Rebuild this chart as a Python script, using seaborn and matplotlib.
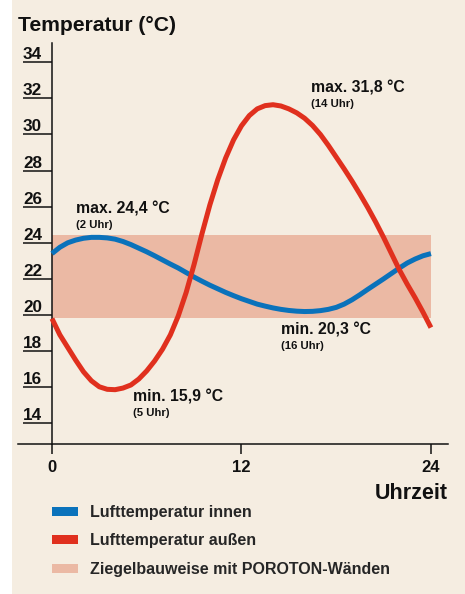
import numpy as np
import pandas as pd
import matplotlib
matplotlib.use("Agg")
import matplotlib.pyplot as plt
from matplotlib.patches import Patch, Rectangle
import seaborn as sns

# Werte (halbstündlich)
stunden = [0, 0.5, 1, 1.5, 2, 2.5, 3, 3.5, 4, 4.5, 5, 5.5, 6, 6.5, 7, 7.5,
           8, 8.5, 9, 9.5, 10, 10.5, 11, 11.5, 12, 12.5, 13, 13.5, 14, 14.5,
           15, 15.5, 16, 16.5, 17, 17.5, 18, 18.5, 19, 19.5, 20, 20.5, 21,
           21.5, 22, 22.5, 23, 23.5, 24]
innen = [23.4, 23.75, 24.0, 24.15, 24.25, 24.3, 24.3, 24.27, 24.2, 24.07,
         23.9, 23.7, 23.5, 23.28, 23.05, 22.82, 22.6, 22.35, 22.1, 21.87,
         21.65, 21.45, 21.25, 21.07, 20.9, 20.75, 20.6, 20.49, 20.39, 20.31,
         20.25, 20.21, 20.19, 20.2, 20.24, 20.31, 20.42, 20.6, 20.84, 21.12,
         21.42, 21.71, 22.0, 22.3, 22.6, 22.88, 23.1, 23.28, 23.4]
aussen = [19.8, 18.9, 18.2, 17.5, 16.85, 16.35, 16.02, 15.88, 15.86, 15.95,
          16.12, 16.45, 16.9, 17.45, 18.1, 18.9, 19.95, 21.25, 22.8, 24.5,
          26.1, 27.5, 28.7, 29.7, 30.48, 31.05, 31.42, 31.6, 31.65, 31.58,
          31.42, 31.2, 30.9, 30.5, 30.0, 29.4, 28.75, 28.1, 27.42, 26.7,
          25.95, 25.15, 24.3, 23.4, 22.5, 21.7, 20.95, 20.15, 19.3]
band_unten = 19.85
band_oben = 24.45
band_stunden = [0, 24]

y_ticks = [14, 16, 18, 20, 22, 24, 26, 28, 30, 32, 34]
x_ticks = [0, 12, 24]

# Beschriftungen: (x, y, Titel, Zeit)
notizen = [
    (1.52, 25.6, "max. 24,4 °C", "(2 Uhr)"),
    (16.4, 32.3, "max. 31,8 °C", "(14 Uhr)"),
    (14.5, 18.89, "min. 20,3 °C", "(16 Uhr)"),
    (5.13, 15.18, "min. 15,9 °C", "(5 Uhr)"),
]

legende = ["Lufttemperatur innen", "Lufttemperatur außen",
           "Ziegelbauweise mit POROTON-Wänden"]

BLAU = "#0a72bb"
ROT = "#e0301e"
ROSA = "#ebb9a4"
BEIGE = "#f5ede1"
SCHWARZ = "#111111"

sns.set_style("white")
plt.rcParams["font.family"] = ["Liberation Sans", "DejaVu Sans"]
plt.rcParams["font.weight"] = "bold"

df = pd.DataFrame({"Uhrzeit": stunden, "innen": innen, "aussen": aussen})

fig = plt.figure(figsize=(4.65, 5.94), dpi=100, facecolor="white")
fig.patches.append(Rectangle((12 / 465, 0), 1, 1, transform=fig.transFigure,
                             facecolor=BEIGE, edgecolor="none", zorder=-10))

ax = fig.add_axes([18 / 465, 150 / 594, 430 / 465, 401 / 594])
ax.set_facecolor("none")

ax.fill_between(band_stunden, band_unten, band_oben, color=ROSA, lw=0, zorder=1)
sns.lineplot(data=df, x="Uhrzeit", y="innen", ax=ax, color=BLAU, lw=3.6,
             solid_capstyle="butt", solid_joinstyle="round", zorder=3)
sns.lineplot(data=df, x="Uhrzeit", y="aussen", ax=ax, color=ROT, lw=3.6,
             solid_capstyle="butt", solid_joinstyle="round", zorder=4)

ax.set_xlim(-2.15, 25.08)
ax.set_ylim(12.85, 35.07)
ax.set_xlabel("")
ax.set_ylabel("")

for s in ["top", "right"]:
    ax.spines[s].set_visible(False)
ax.spines["left"].set_position(("data", 0))
for s in ["left", "bottom"]:
    ax.spines[s].set_linewidth(1.1)
    ax.spines[s].set_color(SCHWARZ)

ax.set_yticks(y_ticks)
ax.set_yticklabels([str(v) for v in y_ticks])
ax.tick_params(axis="y", direction="out", length=20.9, width=1.1, pad=0,
               labelsize=12.3, colors=SCHWARZ, left=True)
for lbl in ax.get_yticklabels():
    lbl.set_horizontalalignment("left")
    lbl.set_verticalalignment("bottom")
    lbl.set_fontweight("bold")

ax.set_xticks(x_ticks)
ax.set_xticklabels([str(v) for v in x_ticks])
ax.tick_params(axis="x", direction="out", length=7.5, width=1.1, pad=4,
               labelsize=12, colors=SCHWARZ, bottom=True)
for lbl in ax.get_xticklabels():
    lbl.set_fontweight("bold")

for x, y, titel, zeit in notizen:
    ax.text(x, y, titel, fontsize=11.3, fontweight="bold", color=SCHWARZ,
            va="baseline", ha="left")
    ax.text(x, y - 0.78, zeit, fontsize=8.2, fontweight="bold", color=SCHWARZ,
            va="baseline", ha="left")

fig.text(18 / 465, 1 - 31 / 594, "Temperatur (°C)", fontsize=15.2,
         fontweight="bold", color=SCHWARZ, va="baseline", ha="left")
fig.text(448 / 465, 1 - 499 / 594, "Uhrzeit", fontsize=15.5,
         fontweight="bold", color=SCHWARZ, va="baseline", ha="right")

griffe = [Patch(facecolor=BLAU, edgecolor="none"),
          Patch(facecolor=ROT, edgecolor="none"),
          Patch(facecolor=ROSA, edgecolor="none")]
fig.legend(griffe, legende, loc="upper left",
           bbox_to_anchor=(52 / 465, 1 - 505 / 594), frameon=False,
           borderpad=0, borderaxespad=0,
           prop={"weight": "bold", "size": 11.5}, handlelength=1.63,
           handleheight=0.5, handletextpad=0.75, labelspacing=0.84)

fig.savefig("out.png", dpi=100, facecolor=fig.get_facecolor())
